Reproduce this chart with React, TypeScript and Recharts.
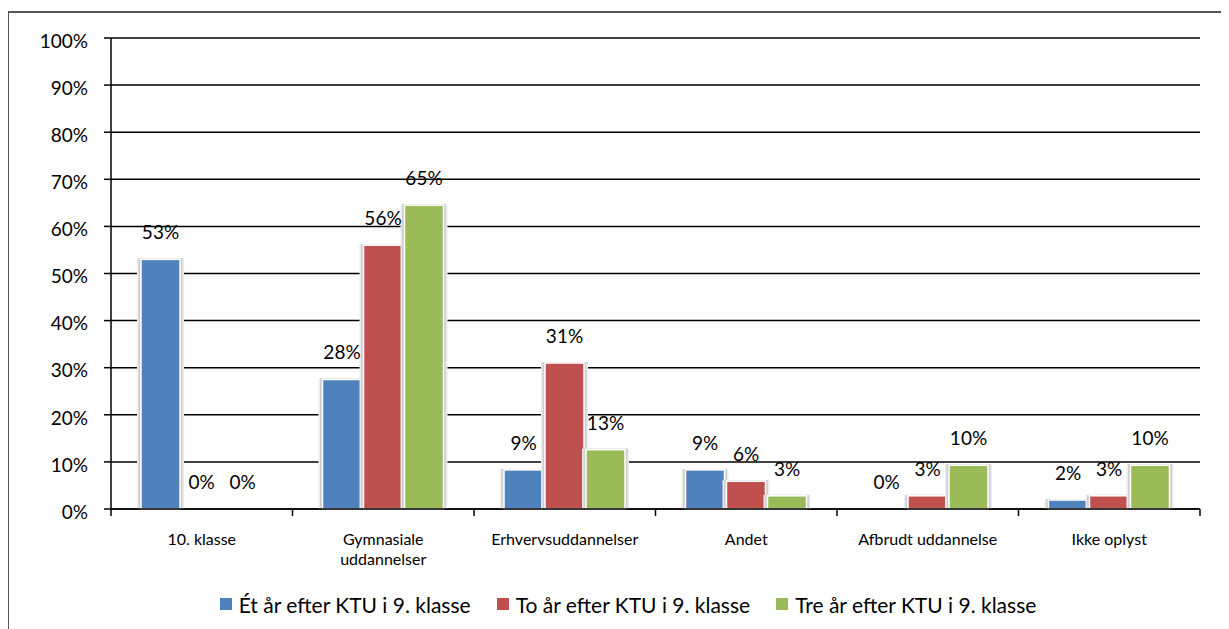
import React from "react";
import { BarChart, Bar, XAxis, YAxis, CartesianGrid, Legend, LabelList, Text } from "recharts";

const categories = ["10. klasse", "Gymnasiale uddannelser", "Erhvervsuddannelser", "Andet", "Afbrudt uddannelse", "Ikke oplyst"];
const seriesNames = ["Ét år efter KTU i 9. klasse", "To år efter KTU i 9. klasse", "Tre år efter KTU i 9. klasse"];
const seriesColors = ["#4F81BD", "#C0504D", "#9BBB59"];
const valuesOne = [53, 27.5, 8.3, 8.3, 0, 1.9];
const valuesTwo = [0, 56, 31, 5.9, 2.8, 2.8];
const valuesThree = [0, 64.5, 12.6, 2.8, 9.3, 9.3];
const labelsOne = ["53%", "28%", "9%", "9%", "0%", "2%"];
const labelsTwo = ["0%", "56%", "31%", "6%", "3%", "3%"];
const labelsThree = ["0%", "65%", "13%", "3%", "10%", "10%"];
const yTicks = [0, 10, 20, 30, 40, 50, 60, 70, 80, 90, 100];

const FONT = "Lato, 'Open Sans', sans-serif";

const data = categories.map((c, i) => ({
  name: c,
  s1: valuesOne[i],
  s2: valuesTwo[i],
  s3: valuesThree[i],
}));

const seriesKeys = ["s1", "s2", "s3"];
const seriesLabels = [labelsOne, labelsTwo, labelsThree];

const ShadowBar = (props: any) => {
  const { x, y, width, height, fill } = props;
  if (!height || height <= 0) return null;
  return (
    <g>
      <rect x={x - 4} y={y - 1} width={width + 8} height={height + 1} fill="#ebebeb" />
      <rect x={x - 2.5} y={y - 1} width={width + 5} height={height + 1} fill="#cfcfcf" />
      <rect x={x} y={y} width={width} height={height} fill={fill} stroke="#ffffff" strokeWidth={1.5} />
    </g>
  );
};

const makeLabel = (labels: string[]) => (p: any) => {
  const { x, y, width, index } = p;
  return (
    <text x={x + width / 2} y={y - 20} textAnchor="middle" fontFamily={FONT} fontSize={19} fill="#000">
      {labels[index]}
    </text>
  );
};

const CategoryTick = (props: any) => {
  const { x, y, payload, index, visibleTicksCount } = props;
  const half = payload && payload.offset ? payload.offset : 0;
  const isLast = index === (visibleTicksCount ?? categories.length) - 1;
  return (
    <g>
      <line x1={x - half} x2={x - half} y1={y} y2={y + 7} stroke="#000" strokeWidth={1.5} />
      {isLast && <line x1={x + half} x2={x + half} y1={y} y2={y + 7} stroke="#000" strokeWidth={1.5} />}
      <Text
        x={x}
        y={y + 25}
        width={160}
        textAnchor="middle"
        verticalAnchor="start"
        lineHeight={20}
        style={{ fontFamily: FONT, fontSize: 16 }}
        fill="#000"
      >
        {payload.value}
      </Text>
    </g>
  );
};

const LegendContent = () => (
  <div
    style={{
      display: "flex",
      justifyContent: "center",
      alignItems: "center",
      height: 30,
      fontFamily: FONT,
      fontSize: 21,
      color: "#000",
      whiteSpace: "nowrap",
    }}
  >
    {seriesNames.map((n, i) => (
      <div key={n} style={{ display: "flex", alignItems: "center", marginLeft: i === 0 ? 0 : 26 }}>
        <span style={{ display: "inline-block", width: 12, height: 12, background: seriesColors[i], marginRight: 7 }} />
        <span>{n}</span>
      </div>
    ))}
  </div>
);

export default function App() {
  return (
    <div
      style={{
        position: "relative",
        width: 1221,
        height: 618,
        marginTop: 3,
        borderLeft: "1px solid #555",
        borderTop: "2px solid #555",
        background: "#fff",
      }}
    >
      <BarChart
        width={1220}
        height={616}
        data={data}
        margin={{ top: 25, right: 29, left: 0, bottom: 10 }}
        barSize={39}
        barGap={2}
      >
        <CartesianGrid vertical={false} stroke="#000" strokeWidth={1.5} />
        <XAxis
          dataKey="name"
          height={80}
          axisLine={{ stroke: "#000", strokeWidth: 1.5 }}
          tickLine={false}
          tickSize={0}
          tickMargin={0}
          interval={0}
          tick={<CategoryTick />}
        />
        <YAxis
          width={102}
          domain={[0, 100]}
          ticks={yTicks}
          interval={0}
          tickFormatter={(v: number) => `${v}%`}
          axisLine={{ stroke: "#000", strokeWidth: 1.5 }}
          tickLine={{ stroke: "#000", strokeWidth: 1.5 }}
          tickSize={7}
          tickMargin={16}
          tick={{ fontFamily: FONT, fontSize: 19, fill: "#000", dy: 3 }}
        />
        <Legend verticalAlign="bottom" align="center" wrapperStyle={{ left: 9, width: 1220 }} content={<LegendContent />} />
        {seriesKeys.map((k, i) => (
          <Bar key={k} dataKey={k} name={seriesNames[i]} fill={seriesColors[i]} shape={<ShadowBar />} isAnimationActive={false}>
            <LabelList dataKey={k} content={makeLabel(seriesLabels[i])} />
          </Bar>
        ))}
      </BarChart>
    </div>
  );
}
